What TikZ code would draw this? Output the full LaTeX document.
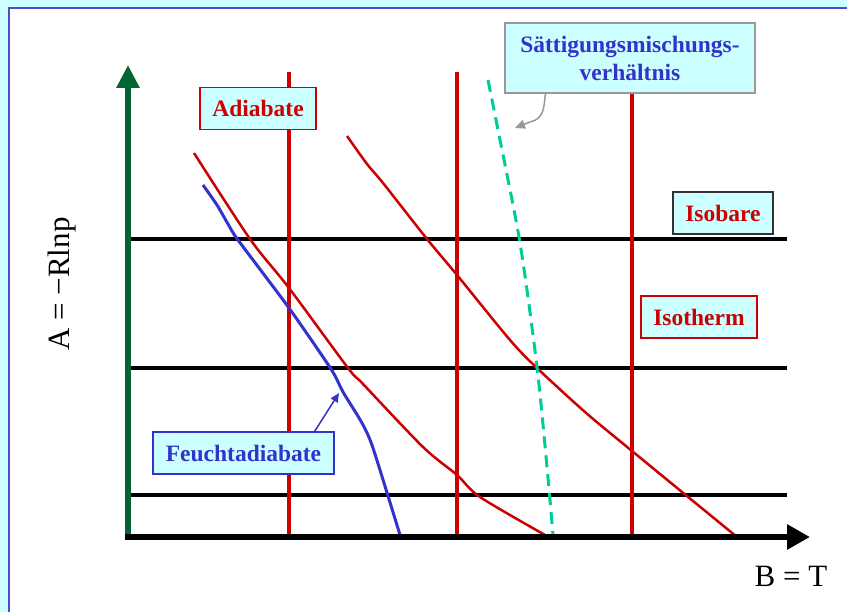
\documentclass[tikz,border=0pt]{standalone}
\usepackage{fontspec}
\setmainfont{Liberation Serif}
\usetikzlibrary{arrows.meta,calc}
\definecolor{bgcyan}{HTML}{CCFFFF}
\definecolor{myred}{HTML}{CC0000}
\definecolor{myblue}{HTML}{3333CC}
\definecolor{mygreen}{HTML}{006633}
\definecolor{mydash}{HTML}{00CC99}
\definecolor{framecol}{HTML}{4D4DCC}
\definecolor{mygray}{HTML}{999999}
\tikzset{
  lbl/.style={draw, fill=bgcyan, line width=1.3pt, inner sep=0pt, minimum height=42pt, align=center,
    font=\bfseries\fontsize{23.5}{28}\selectfont},
  isobar/.style={black, line width=3.8pt},
  isotherm/.style={myred, line width=4pt},
  adiab/.style={myred, line width=2.5pt, line join=round},
  feucht/.style={myblue, line width=3pt, line join=round},
  saett/.style={mydash, line width=3pt, dash pattern=on 12pt off 7pt},
  axislabel/.style={font=\fontsize{31}{36}\selectfont, inner sep=0pt}
}
\begin{document}
\begin{tikzpicture}[x=1pt,y=-1pt]
\useasboundingbox (0,0) rectangle (847,612);
\fill[bgcyan] (0,0) rectangle (847,612);
\filldraw[fill=white, draw=framecol, line width=2pt] (9,8) rectangle (860,625);

% coordinates
\coordinate (O) at (128,537);
\coordinate (Ox) at (125,537);
\coordinate (ytip) at (128,65);
\coordinate (xtip) at (810,537);

% isobars
\foreach \y in {239,368,495} {
  \draw[isobar] (128,\y) -- (787,\y);
}
% isotherms
\foreach \x in {289,457,632} {
  \draw[isotherm] (\x,72) -- (\x,537);
}

% dry adiabats
\draw[adiab] plot[smooth, tension=0.5] coordinates {(194,153) (250,239) (289,288) (348,368) (363,384) (423,447) (457,475) (480,497) (545,535)};
\draw[adiab] plot[smooth, tension=0.5] coordinates {(347,136) (367,164) (383,183) (427,239) (457,275) (510,340) (537,368) (585,412) (632,451) (737,537)};

% moist adiabat
\draw[feucht] plot[smooth, tension=0.4] coordinates {(203,185) (217,205) (228,224) (238,240) (289,308) (331,369) (343,392) (362,423) (373,448) (400,535)};

% saturation mixing ratio
\draw[saett] plot[smooth, tension=0.5] coordinates {(488,80) (497,125) (520,243) (537,367) (547,467) (553,535)};

% axes
\draw[mygreen, line width=6pt, -{Triangle[length=23pt,width=22pt]}] (O) -- (ytip);
\draw[black, line width=6pt, -{Triangle[length=23pt,width=24pt]}] (Ox) -- (xtip);

% labels
\node[lbl, draw=myred, text=myred, minimum width=116pt] (adi) at (258,108.5) {Adiabate};
\node[lbl, draw=mygray, text=myblue, minimum width=250pt, minimum height=70pt] (sm) at (630,58) {Sättigungsmischungs-\\verhältnis};
\node[lbl, draw=myblue, text=myblue, minimum width=181pt] (fa) at (243.5,453) {Feuchtadiabate};
\node[lbl, draw=black!80, text=myred, minimum width=100pt] (isob) at (723,213) {Isobare};
\node[lbl, draw=myred, text=myred, minimum width=116pt] (isot) at (699,317) {Isotherm};

% pointers
\coordinate (fatip) at (339,393);
\draw[myblue, line width=1.5pt, -{Triangle[length=9pt,width=8pt]}] ($(fa.north east)+(-20,0)$) -- (fatip);
\coordinate (smtip) at (515,128);
\draw[mygray, line width=1.5pt, -{Triangle[length=10pt,width=9pt]}] ($(sm.south west)+(41,0)$) .. controls (544,110) and (543,119) .. (530,122) -- (smtip);

% axis labels
\node[axislabel] (blab) at (791,576) {B = T};
\node[axislabel, rotate=90] (alab) at (62,284) {A = −Rlnp};
\end{tikzpicture}
\end{document}
